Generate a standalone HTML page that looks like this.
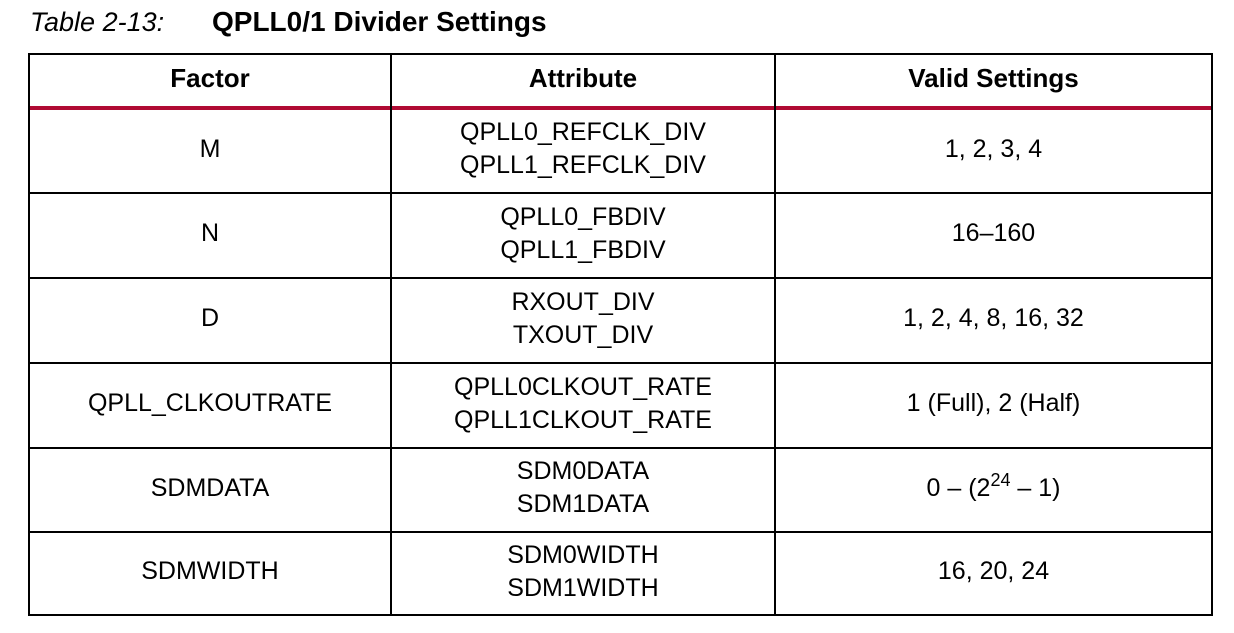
<!DOCTYPE html>
<html><head><meta charset="utf-8"><style>
body{margin:0;width:1234px;height:633px;background:#fff;font-family:"Liberation Sans",sans-serif;color:#000;position:relative;overflow:hidden}
.t{position:absolute;white-space:nowrap}
.h{position:absolute;background:#000;height:2px}
.v{position:absolute;background:#000;width:2px;top:53px;height:563px}
.c{position:absolute;display:flex;align-items:center;justify-content:center;text-align:center;font-size:25px;line-height:33px}
.hd{font-weight:bold;font-size:26px}
</style></head><body>
<div class="t" style="left:30px;top:5px;font-size:27px;line-height:34px"><i>Table 2-13:</i><b style="position:absolute;left:182px;font-size:28px">QPLL0/1 Divider Settings</b></div>
<div class="h" style="left:29px;width:1184px;top:53px"></div>
<div style="position:absolute;left:29px;width:1184px;top:106px;height:4px;background:#b00a33"></div>
<div class="h" style="left:29px;width:1184px;top:192px"></div>
<div class="h" style="left:29px;width:1184px;top:277px"></div>
<div class="h" style="left:29px;width:1184px;top:362px"></div>
<div class="h" style="left:29px;width:1184px;top:447px"></div>
<div class="h" style="left:29px;width:1184px;top:531px"></div>
<div class="h" style="left:29px;width:1184px;top:614px"></div>
<div class="v" style="left:28px"></div>
<div class="v" style="left:390px"></div>
<div class="v" style="left:774px"></div>
<div class="v" style="left:1211px"></div>

<div class="c hd" style="left:30px;width:360px;top:53px;height:51px">Factor</div>
<div class="c hd" style="left:392px;width:382px;top:53px;height:51px">Attribute</div>
<div class="c hd" style="left:776px;width:435px;top:53px;height:51px">Valid Settings</div>

<div class="c" style="left:30px;width:360px;top:108px;height:82px">M</div>
<div class="c" style="left:392px;width:382px;top:108px;height:82px">QPLL0_REFCLK_DIV<br>QPLL1_REFCLK_DIV</div>
<div class="c" style="left:776px;width:435px;top:108px;height:82px">1, 2, 3, 4</div>

<div class="c" style="left:30px;width:360px;top:192px;height:83px">N</div>
<div class="c" style="left:392px;width:382px;top:192px;height:83px">QPLL0_FBDIV<br>QPLL1_FBDIV</div>
<div class="c" style="left:776px;width:435px;top:192px;height:83px">16–160</div>

<div class="c" style="left:30px;width:360px;top:277px;height:83px">D</div>
<div class="c" style="left:392px;width:382px;top:277px;height:83px">RXOUT_DIV<br>TXOUT_DIV</div>
<div class="c" style="left:776px;width:435px;top:277px;height:83px">1, 2, 4, 8, 16, 32</div>

<div class="c" style="left:30px;width:360px;top:362px;height:83px">QPLL_CLKOUTRATE</div>
<div class="c" style="left:392px;width:382px;top:362px;height:83px">QPLL0CLKOUT_RATE<br>QPLL1CLKOUT_RATE</div>
<div class="c" style="left:776px;width:435px;top:362px;height:83px">1 (Full), 2 (Half)</div>

<div class="c" style="left:30px;width:360px;top:447px;height:82px">SDMDATA</div>
<div class="c" style="left:392px;width:382px;top:447px;height:82px">SDM0DATA<br>SDM1DATA</div>
<div class="c" style="left:776px;width:435px;top:447px;height:82px"><span>0 – (2<sup style="font-size:18px;vertical-align:10px;line-height:0">24</sup> – 1)</span></div>

<div class="c" style="left:30px;width:360px;top:531px;height:81px">SDMWIDTH</div>
<div class="c" style="left:392px;width:382px;top:531px;height:81px">SDM0WIDTH<br>SDM1WIDTH</div>
<div class="c" style="left:776px;width:435px;top:531px;height:81px">16, 20, 24</div>
</body></html>
